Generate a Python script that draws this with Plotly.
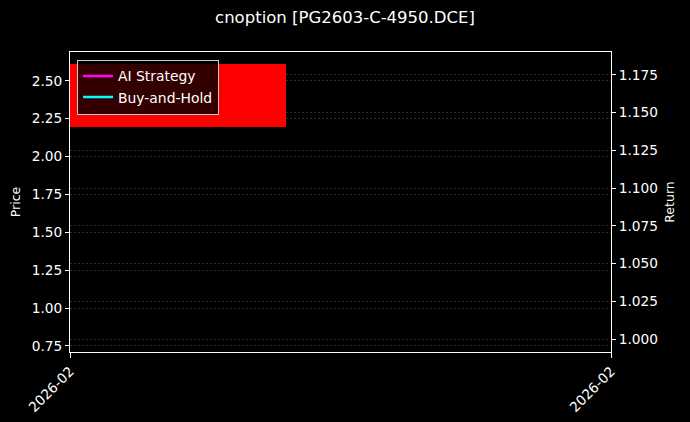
import plotly.graph_objects as go

title = "cnoption [PG2603-C-4950.DCE]"

# single bar of option price
dates = ["2026-02-13"]
open_px = [2.61]
close_px = [2.195]

# equity curves (single point, nothing drawn)
ret_dates = ["2026-02-13"]
ai_strategy = [1.0]
buy_hold = [1.0]

x_range = ["2026-02-13 00:00", "2026-02-14 00:00"]
x_tickvals = ["2026-02-13 00:00", "2026-02-14 00:00"]
x_ticktext = ["2026-02", "2026-02"]

price_range = [0.71, 2.69]
price_ticks = [0.75, 1.00, 1.25, 1.50, 1.75, 2.00, 2.25, 2.50]
return_range = [0.9914, 1.1902]
return_ticks = [1.000, 1.025, 1.050, 1.075, 1.100, 1.125, 1.150, 1.175]

day_ms = 24 * 3600 * 1000

fig = go.Figure()
fig.add_trace(go.Bar(
    x=dates,
    base=close_px,
    y=[o - c for o, c in zip(open_px, close_px)],
    width=0.8 * day_ms,
    marker=dict(color="red", line=dict(width=0)),
    showlegend=False,
))
fig.add_trace(go.Scatter(
    x=ret_dates, y=ai_strategy, yaxis="y2", mode="lines",
    name="AI Strategy", line=dict(color="#ff00ff", width=2.5),
))
fig.add_trace(go.Scatter(
    x=ret_dates, y=buy_hold, yaxis="y2", mode="lines",
    name="Buy-and-Hold", line=dict(color="#00ffff", width=2.5),
))

grid = dict(showgrid=True, gridcolor="rgba(80,80,80,0.55)", griddash="2px,2px", gridwidth=0.6)
font = dict(family="DejaVu Sans", size=13.7, color="white")
axis_title_font = dict(family="DejaVu Sans", size=12.5, color="white")

fig.update_layout(
    width=690, height=422,
    paper_bgcolor="black", plot_bgcolor="black",
    font=font,
    margin=dict(l=70, r=79, t=52, b=70),
    title=dict(text=title, x=0.5, xanchor="center", y=0.96, yanchor="middle",
               font=dict(family="DejaVu Sans", size=16.5, color="white")),
    showlegend=True,
    legend=dict(x=0.013, y=0.975, xanchor="left", yanchor="top",
                bgcolor="rgba(0,0,0,0.8)", bordercolor="#cccccc", borderwidth=1,
                font=dict(family="DejaVu Sans", size=13.9, color="white"),
                tracegroupgap=0, itemwidth=30),
    xaxis=dict(type="date", range=x_range, tickvals=x_tickvals, ticktext=x_ticktext,
               tickangle=-45, ticks="outside", ticklen=5, tickcolor="white",
               showline=True, linecolor="white", linewidth=1, mirror=True,
               showgrid=False, zeroline=False, automargin=False),
    yaxis=dict(title=dict(text="Price", standoff=8, font=axis_title_font),
               range=price_range, tickvals=price_ticks, automargin=False,
               tickformat=".2f", ticks="outside", ticklen=4, tickcolor="white",
               showline=True, linecolor="white", linewidth=1, zeroline=False, **grid),
    yaxis2=dict(title=dict(text="Return", standoff=8, font=axis_title_font),
                range=return_range, tickvals=return_ticks, automargin=False,
                tickformat=".3f", overlaying="y", side="right",
                ticks="outside", ticklen=4, tickcolor="white",
                showline=True, linecolor="white", linewidth=1, zeroline=False, **grid),
    bargap=0,
)

fig.write_html("out.html", config={"displayModeBar": False},
               post_script="document.body.style.margin='0';")
